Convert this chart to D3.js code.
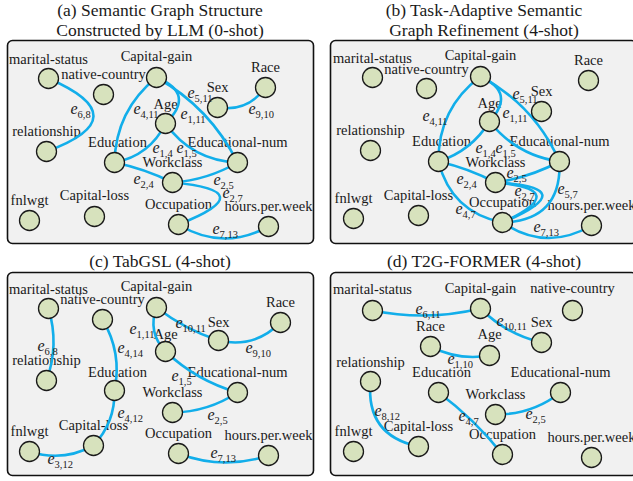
<!DOCTYPE html>
<html>
<head>
<meta charset="utf-8">
<script src="https://cdn.jsdelivr.net/npm/d3@7"></script>
<style>
  html, body { margin: 0; padding: 0; background: #ffffff; }
  svg { display: block; }
</style>
</head>
<body>
<svg id="chart" width="633" height="481"></svg>
<script>
// ---------------- DATA ----------------
const nodeNames = ["marital-status", "native-country", "Capital-gain", "Race", "Sex", "Age",
  "relationship", "Education", "Educational-num", "Workclass", "fnlwgt", "Capital-loss",
  "Occupation", "hours.per.week"];

const panelTitles = [
  ["(a) Semantic Graph Structure", "Constructed by LLM (0-shot)"],
  ["(b) Task-Adaptive Semantic", "Graph Refinement (4-shot)"],
  ["(c) TabGSL (4-shot)"],
  ["(d) T2G-FORMER (4-shot)"]
];

// edges: [source, target, subscript of e]
const edgesA = [
  ["marital-status", "relationship", "6,8"],
  ["Capital-gain", "Education", "4,11"],
  ["Capital-gain", "Age", "1,11"],
  ["Capital-gain", "Educational-num", "5,11"],
  ["Sex", "Race", "9,10"],
  ["Age", "Education", "1,4"],
  ["Age", "Educational-num", "1,5"],
  ["Education", "Workclass", "2,4"],
  ["Workclass", "Educational-num", "2,5"],
  ["Workclass", "Occupation", "2,7"],
  ["Occupation", "hours.per.week", "7,13"]
];
const edgesB = [
  ["Capital-gain", "Education", "4,11"],
  ["Capital-gain", "Age", "1,11"],
  ["Capital-gain", "Educational-num", "5,11"],
  ["Age", "Education", "1,4"],
  ["Age", "Educational-num", "1,5"],
  ["Education", "Workclass", "2,4"],
  ["Workclass", "Educational-num", "2,5"],
  ["Workclass", "Occupation", "2,7"],
  ["Educational-num", "Occupation", "5,7"],
  ["Education", "Occupation", "4,7"],
  ["Occupation", "hours.per.week", "7,13"]
];
const edgesC = [
  ["marital-status", "relationship", "6,8"],
  ["native-country", "Education", "4,14"],
  ["Education", "Capital-loss", "4,12"],
  ["fnlwgt", "Capital-loss", "3,12"],
  ["Capital-gain", "Age", "1,11"],
  ["Capital-gain", "Sex", "10,11"],
  ["Sex", "Race", "9,10"],
  ["Age", "Educational-num", "1,5"],
  ["Workclass", "Educational-num", "2,5"],
  ["Occupation", "hours.per.week", "7,13"]
];
const edgesD = [
  ["marital-status", "Capital-gain", "6,11"],
  ["Capital-gain", "Sex", "10,11"],
  ["Race", "Age", "1,10"],
  ["relationship", "Capital-loss", "8,12"],
  ["Education", "Occupation", "4,7"],
  ["Workclass", "Educational-num", "2,5"]
];

// ---------------- LAYOUT (panel-local units) ----------------
const layoutA = {
  origin: [7.5, 40.5],
  nodes: {"marital-status":[41,38],"native-country":[96,54],"Capital-gain":[149,37],"Race":[258,47],
    "Sex":[210,67],"Age":[158,83],"relationship":[39,111],"Education":[107,122],"Educational-num":[230,122],
    "Workclass":[165,142],"fnlwgt":[22,180],"Capital-loss":[87,176],"Occupation":[171,184],"hours.per.week":[261,186]},
  labelDy: {"Capital-gain":-17,"Age":-15,"marital-status":-15,"Capital-loss":-17},
  bends: {"6,8":[-46],"4,11":[11],"1,11":[-18],"5,11":[-9],"9,10":[8],"1,4":[-8],"1,5":[10],
    "2,4":[-2],"2,5":[4],"2,7":[-45],"7,13":[13]},
  edgeLabel: {"6,8":[63,73],"4,11":[126,73],"1,11":[173,78],"5,11":[180,57],"9,10":[241,73],
    "1,4":[145,112],"1,5":[169,112],"2,4":[126,143],"2,5":[206,144],"2,7":[215,157],"7,13":[205,193]}
};
const layoutB = {
  origin: [330.5, 40.5],
  nodes: {"marital-status":[42,37],"native-country":[96,48],"Capital-gain":[150,36],"Race":[258,40],
    "Sex":[211,71],"Age":[159,81],"relationship":[40,110],"Education":[108,121],"Educational-num":[229,121],
    "Workclass":[165,142],"fnlwgt":[23,178],"Capital-loss":[88,175],"Occupation":[172,182],"hours.per.week":[261,185]},
  labelDy: {"Capital-gain":-17,"Age":-14,"marital-status":-15,"native-country":-15},
  bends: {"4,11":[12],"1,11":[-16],"5,11":[-10],"1,4":[-6],"1,5":[8],"2,4":[-2],"2,5":[3],
    "2,7":[-44,-38],"5,7":[-21],"4,7":[14],"7,13":[14]},
  edgeLabel: {"4,11":[92,80],"5,11":[182,58],"1,11":[172,77],"1,4":[145,112],"1,5":[165,112],
    "2,5":[176,137],"2,4":[126,143],"2,7":[184,155],"5,7":[227,153],"4,7":[125,173],"7,13":[203,191]}
};
const layoutC = {
  origin: [7.5, 272.5],
  nodes: {"marital-status":[41,36],"native-country":[95,47],"Capital-gain":[149,35],"Race":[273,50],
    "Sex":[211,68],"Age":[158,79],"relationship":[39,108],"Education":[107,118],"Educational-num":[230,120],
    "Workclass":[165,140],"fnlwgt":[22,179],"Capital-loss":[86,173],"Occupation":[171,181],"hours.per.week":[261,183]},
  labelDy: {"Capital-gain":-17,"Age":-13,"Sex":-14,"Education":-14,"marital-status":-15},
  bends: {"6,8":[-6],"4,14":[-7],"4,12":[-6],"3,12":[7],"1,11":[7],"10,11":[3],"9,10":[9],
    "1,5":[5],"2,5":[5],"7,13":[8]},
  edgeLabel: {"6,8":[30,78],"4,14":[110,80],"1,11":[122,61],"10,11":[168,55],"9,10":[238,80],
    "1,5":[164,108],"4,12":[110,145],"2,5":[200,147],"3,12":[40,191],"7,13":[203,185]}
};
const layoutD = {
  origin: [330.5, 272.5],
  nodes: {"marital-status":[42,38],"Capital-gain":[150,36],"native-country":[242,38],"Race":[100,74],
    "Sex":[211,70],"Age":[159,83],"relationship":[40,109],"Education":[108,120],"Educational-num":[230,120],
    "Workclass":[165,142],"fnlwgt":[23,179],"Capital-loss":[88,174],"Occupation":[172,182],"hours.per.week":[261,185]},
  labelDy: {"marital-status":-17,"native-country":-18,"Age":-17,"relationship":-15},
  bends: {"6,11":[6],"10,11":[5],"1,10":[5],"8,12":[18],"4,7":[-3],"2,5":[6]},
  edgeLabel: {"6,11":[85,41],"10,11":[166,53],"1,10":[117,91],"8,12":[44,143],"4,7":[128,148],"2,5":[195,146]}
};

const titleCenters = [160, 484, 160, 484];
const titleBaselines = [[16, 36], [16, 36], [267], [267]];

// ---------------- STYLE ----------------
const PANEL_W = 306, PANEL_H = 203;
const FONT = "'Liberation Serif', 'Times New Roman', Times, serif";
const EDGE_COLOR = "#12aeea";
const NODE_FILL = "#d7e2bd";

const svg = d3.select("#chart");

function drawPanel(edges, layout, idx) {
  const [ox, oy] = layout.origin;
  const x = d3.scaleLinear().domain([0, PANEL_W]).range([ox, ox + PANEL_W]);
  const y = d3.scaleLinear().domain([0, PANEL_H]).range([oy, oy + PANEL_H]);
  const g = svg.append("g");

  g.append("rect")
    .attr("x", x(0)).attr("y", y(0))
    .attr("width", x(PANEL_W) - x(0)).attr("height", y(PANEL_H) - y(0))
    .attr("rx", 5).attr("ry", 5)
    .attr("fill", "#f1f1f1").attr("stroke", "#111").attr("stroke-width", 1.6);

  const pos = name => [x(layout.nodes[name][0]), y(layout.nodes[name][1])];

  // node labels
  g.selectAll("text.node-label").data(nodeNames).join("text")
    .attr("class", "node-label")
    .attr("x", d => pos(d)[0] + (d === "Education" ? 3 : 0))
    .attr("y", d => pos(d)[1] + (layout.labelDy[d] !== undefined ? layout.labelDy[d] : -16))
    .attr("text-anchor", "middle")
    .attr("font-family", FONT).attr("font-size", 14.5).attr("fill", "#1a1a1a")
    .text(d => d);

  // edges
  const segs = [];
  edges.forEach(e => {
    (layout.bends[e[2]] || [0]).forEach(b => segs.push({s: e[0], t: e[1], bend: b}));
  });
  g.selectAll("path.edge").data(segs).join("path")
    .attr("class", "edge")
    .attr("d", d => {
      const a = pos(d.s), b = pos(d.t);
      const dx = b[0] - a[0], dy = b[1] - a[1], L = Math.hypot(dx, dy);
      const nx = -dy / L, ny = dx / L;
      const cx = (a[0] + b[0]) / 2 + nx * d.bend * 2;
      const cy = (a[1] + b[1]) / 2 + ny * d.bend * 2;
      const p = d3.path();
      p.moveTo(a[0], a[1]);
      p.quadraticCurveTo(cx, cy, b[0], b[1]);
      return p.toString();
    })
    .attr("fill", "none").attr("stroke", EDGE_COLOR).attr("stroke-width", 2.6)
    .attr("stroke-linecap", "round");

  // nodes
  g.selectAll("circle.node").data(nodeNames).join("circle")
    .attr("class", "node")
    .attr("cx", d => pos(d)[0]).attr("cy", d => pos(d)[1])
    .attr("r", 10)
    .attr("fill", NODE_FILL).attr("stroke", "#1a1a1a").attr("stroke-width", 1.3);

  // edge labels
  const el = g.selectAll("text.edge-label").data(edges).join("text")
    .attr("class", "edge-label")
    .attr("x", d => x(layout.edgeLabel[d[2]][0]))
    .attr("y", d => y(layout.edgeLabel[d[2]][1]))
    .attr("font-family", FONT).attr("fill", "#222");
  el.append("tspan").attr("font-style", "italic").attr("font-size", 16).text("e");
  el.append("tspan").attr("font-size", 10.5).attr("dy", 4).text(d => d[2]);

  // title
  panelTitles[idx].forEach((line, i) => {
    svg.append("text")
      .attr("x", titleCenters[idx]).attr("y", titleBaselines[idx][i])
      .attr("text-anchor", "middle")
      .attr("font-family", FONT).attr("font-size", 17.5).attr("fill", "#1a1a1a")
      .text(line);
  });
}

drawPanel(edgesA, layoutA, 0);
drawPanel(edgesB, layoutB, 1);
drawPanel(edgesC, layoutC, 2);
drawPanel(edgesD, layoutD, 3);
</script>
</body>
</html>
